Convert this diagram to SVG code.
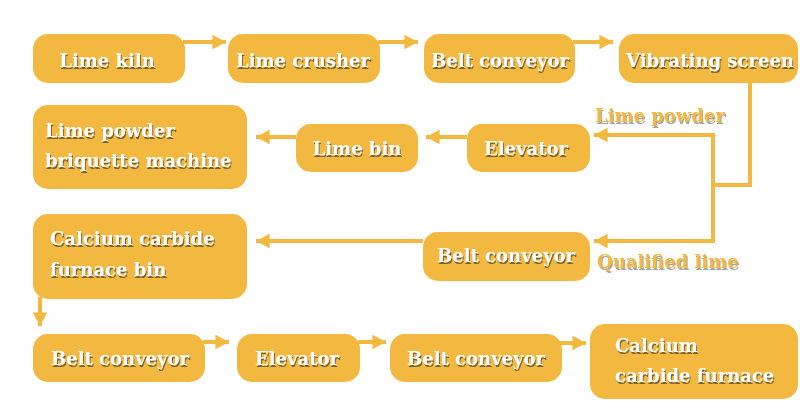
<svg xmlns="http://www.w3.org/2000/svg" width="800" height="418" viewBox="0 0 800 418">
<defs>
<style>
.box{fill:#F3B83F;}
.t{font-family:"DejaVu Serif","Liberation Serif",serif;font-weight:bold;font-size:18px;fill:#ffffff;filter:url(#sh);}
.c{text-anchor:middle;}
.lbl{font-family:"DejaVu Serif","Liberation Serif",serif;font-weight:bold;font-size:18px;fill:#F3B83F;filter:url(#sh2);}
.ln{stroke:#F3B83F;stroke-width:4;fill:none;}
</style>
<filter id="sh" x="-10%" y="-30%" width="120%" height="160%"><feDropShadow dx="1" dy="2" stdDeviation="0.4" flood-color="#6e5a32" flood-opacity="0.9"/></filter>
<filter id="sh2" x="-10%" y="-30%" width="120%" height="160%"><feDropShadow dx="1" dy="2" stdDeviation="0.4" flood-color="#9a9a9a" flood-opacity="0.9"/></filter>
<marker id="ah" markerWidth="4" markerHeight="4" refX="3.4" refY="2" orient="auto" markerUnits="strokeWidth" viewBox="0 0 4 4"><path d="M0,0.2 L3.4,2 L0,3.8 Z" fill="#F3B83F"/></marker>
</defs>
<g id="connectors">
<path class="ln" d="M183,42 H226" marker-end="url(#ah)"/>
<path class="ln" d="M378,42 H418" marker-end="url(#ah)"/>
<path class="ln" d="M573,42 H613" marker-end="url(#ah)"/>
<path class="ln" d="M750,83 V185 H713"/>
<path class="ln" d="M713,133 V243"/>
<path class="ln" d="M713,135 H594" marker-end="url(#ah)"/>
<path class="ln" d="M713,241 H594" marker-end="url(#ah)"/>
<path class="ln" d="M467,137 H426" marker-end="url(#ah)"/>
<path class="ln" d="M296,137 H256" marker-end="url(#ah)"/>
<path class="ln" d="M423,241 H256" marker-end="url(#ah)"/>
<path class="ln" d="M40,297 V326" marker-end="url(#ah)"/>
<path class="ln" d="M203,342 H229" marker-end="url(#ah)"/>
<path class="ln" d="M358,342 H386" marker-end="url(#ah)"/>
<path class="ln" d="M557,343 H586" marker-end="url(#ah)"/>
</g>
<g id="n-lime-kiln"><rect class="box" x="33" y="34" width="152" height="49" rx="15"/><text class="t c" x="107" y="67">Lime kiln</text></g>
<g id="n-lime-crusher"><rect class="box" x="228" y="34" width="152" height="49" rx="15"/><text class="t c" x="303" y="67">Lime crusher</text></g>
<g id="n-belt-1"><rect class="box" x="424" y="34" width="151" height="49" rx="15"/><text class="t c" x="500" y="67">Belt conveyor</text></g>
<g id="n-vibrating-screen"><rect class="box" x="619" y="34" width="179" height="49" rx="15"/><text class="t c" x="710" y="67">Vibrating screen</text></g>
<g id="n-briquette"><rect class="box" x="33" y="105" width="214" height="84" rx="15"/><text class="t" x="45" y="137">Lime powder</text><text class="t" x="45" y="167">briquette machine</text></g>
<g id="n-lime-bin"><rect class="box" x="296" y="124" width="122" height="48" rx="15"/><text class="t c" x="357" y="155">Lime bin</text></g>
<g id="n-elevator-1"><rect class="box" x="467" y="124" width="123" height="48" rx="15"/><text class="t c" x="526" y="155">Elevator</text></g>
<g id="n-furnace-bin"><rect class="box" x="33" y="214" width="214" height="85" rx="15"/><text class="t" x="50" y="245">Calcium carbide</text><text class="t" x="50" y="276">furnace bin</text></g>
<g id="n-belt-2"><rect class="box" x="423" y="232" width="167" height="49" rx="15"/><text class="t c" x="506" y="262">Belt conveyor</text></g>
<g id="n-belt-3"><rect class="box" x="33" y="334" width="172" height="48" rx="15"/><text class="t c" x="120" y="365">Belt conveyor</text></g>
<g id="n-elevator-2"><rect class="box" x="237" y="334" width="123" height="48" rx="15"/><text class="t c" x="297" y="365">Elevator</text></g>
<g id="n-belt-4"><rect class="box" x="390" y="334" width="172" height="48" rx="15"/><text class="t c" x="476" y="365">Belt conveyor</text></g>
<g id="n-furnace"><rect class="box" x="590" y="324" width="208" height="75" rx="15"/><text class="t" x="615" y="352">Calcium</text><text class="t" x="615" y="382">carbide furnace</text></g>
<g id="labels">
<text class="lbl" x="595" y="122">Lime powder</text>
<text class="lbl" x="597" y="268">Qualified lime</text>
</g>
</svg>
